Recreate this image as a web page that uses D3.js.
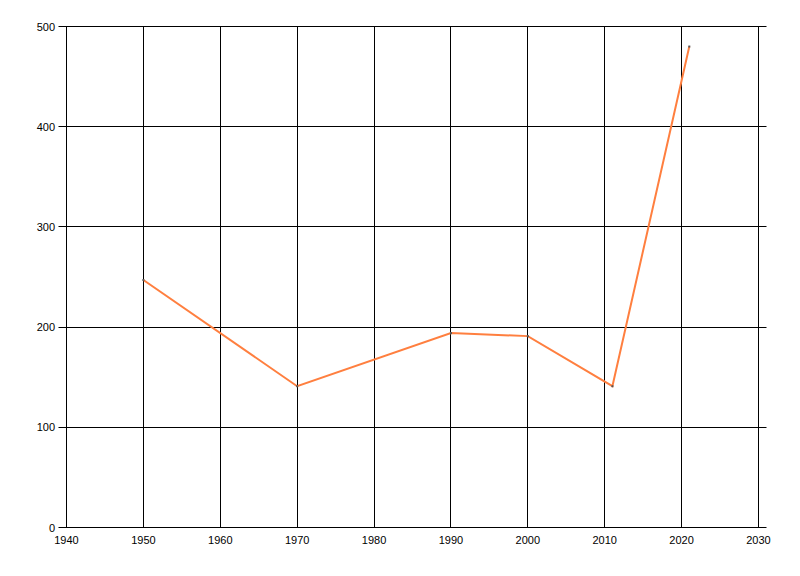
<!DOCTYPE html>
<html>
<head>
<meta charset="utf-8">
<script src="https://cdn.jsdelivr.net/npm/d3@7"></script>
<style>
  body { margin: 0; background: #fff; }
  text { font-family: "Liberation Sans", Arial, sans-serif; font-size: 11px; fill: #000; }
</style>
</head>
<body>
<script>
// data
var years = [1950, 1970, 1990, 2000, 2011, 2021];
var values = [247, 141, 194, 191, 141, 480];
var xTicks = [1940, 1950, 1960, 1970, 1980, 1990, 2000, 2010, 2020, 2030];
var yTicks = [0, 100, 200, 300, 400, 500];

var W = 800, H = 576;
var plot = {
    left: 66.5,
    right: 758.5,
    gridRight: 766.5,
    top: 26.5,
    bottom: 527.5
};

var svg = d3.select("body")
    .append("svg")
    .attr("width", W)
    .attr("height", H);

var x = d3.scaleLinear().domain([1940, 2030]).range([plot.left, plot.right]);
var y = d3.scaleLinear().domain([0, 500]).range([plot.bottom, plot.top]);

function crisp(v) { return Math.round(v - 0.5) + 0.5 }

// horizontal grid + y ticks
svg.selectAll("line.hgrid")
    .data(yTicks)
    .enter()
    .append("line")
    .attr("class", "hgrid")
    .attr("x1", plot.left - 8)
    .attr("x2", plot.gridRight)
    .attr("y1", function (d) { return crisp(y(d)) })
    .attr("y2", function (d) { return crisp(y(d)) })
    .attr("stroke", "#000")
    .attr("stroke-width", 1);

svg.selectAll("text.ylab")
    .data(yTicks)
    .enter()
    .append("text")
    .attr("class", "ylab")
    .attr("x", 55)
    .attr("y", function (d) { return y(d) + 4 })
    .attr("text-anchor", "end")
    .text(function (d) { return d });

// vertical grid
svg.selectAll("line.vgrid")
    .data(xTicks)
    .enter()
    .append("line")
    .attr("class", "vgrid")
    .attr("x1", function (d) { return crisp(x(d)) })
    .attr("x2", function (d) { return crisp(x(d)) })
    .attr("y1", plot.top)
    .attr("y2", plot.bottom)
    .attr("stroke", "#000")
    .attr("stroke-width", 1);

svg.selectAll("text.xlab")
    .data(xTicks)
    .enter()
    .append("text")
    .attr("class", "xlab")
    .attr("x", function (d) { return x(d) })
    .attr("y", plot.bottom + 16)
    .attr("text-anchor", "middle")
    .text(function (d) { return d });

// the series
var pts = years.map(function (d, i) { return [d, values[i]] });

var line = d3.line()
    .x(function (d) { return x(d[0]) })
    .y(function (d) { return y(d[1]) });

svg.append("path")
    .datum(pts)
    .attr("d", line)
    .attr("fill", "none")
    .attr("stroke", "#ff7f3f")
    .attr("stroke-width", 2);

svg.selectAll("rect.mark")
    .data(pts)
    .enter()
    .append("rect")
    .attr("class", "mark")
    .attr("x", function (d) { return x(d[0]) - 1 })
    .attr("y", function (d) { return y(d[1]) - 1 })
    .attr("width", 2)
    .attr("height", 2)
    .attr("fill", "#555");
</script>
</body>
</html>
